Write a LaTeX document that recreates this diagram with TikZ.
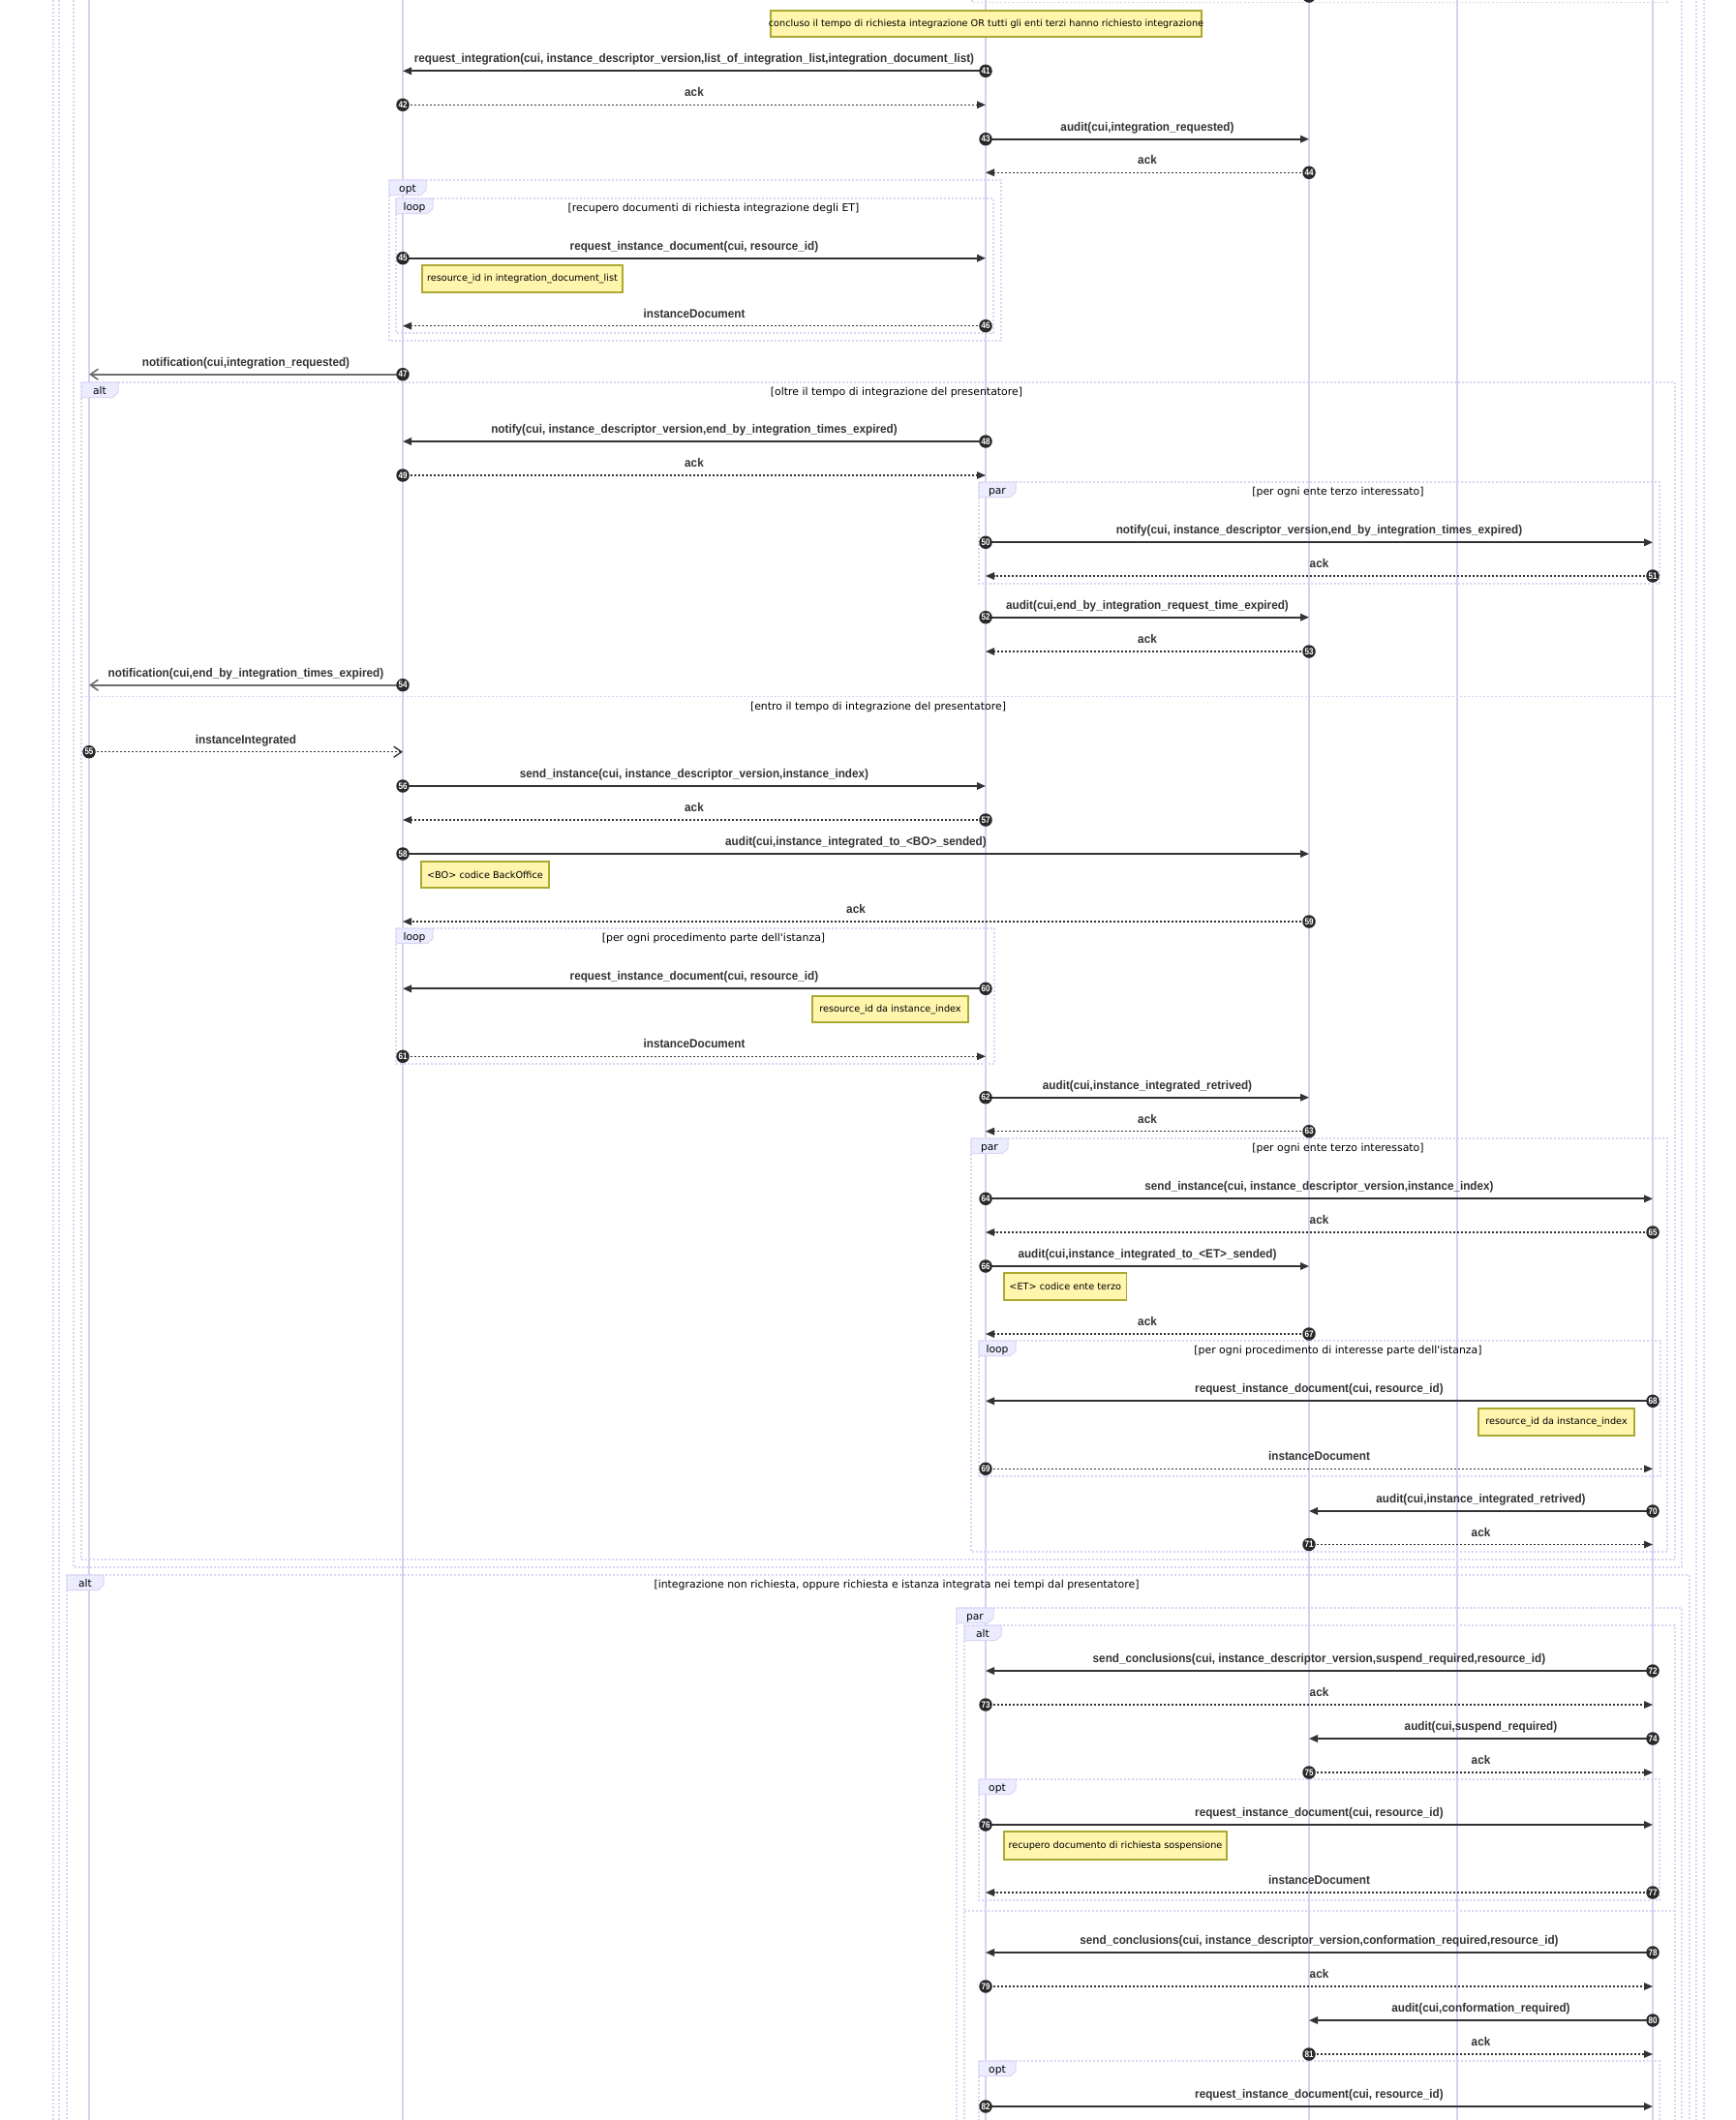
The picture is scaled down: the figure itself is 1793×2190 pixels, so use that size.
\documentclass[tikz,border=0pt]{standalone}
\usepackage{fontspec}
\usetikzlibrary{calc,arrows.meta}
\newfontfamily\msgfont{Liberation Sans}[FakeStretch=0.93]
\newfontfamily\numfont{Liberation Sans}[FakeStretch=0.85]
\newfontfamily\labelfont{DejaVu Sans}

\definecolor{lifeln}{HTML}{DACEF3}
\definecolor{framecol}{HTML}{DCD4F4}
\definecolor{kwfill}{HTML}{ECECFF}
\definecolor{notefill}{HTML}{FFF5AD}
\definecolor{notedraw}{HTML}{AAAA33}
\definecolor{msgcol}{HTML}{333333}
\definecolor{notifcol}{HTML}{6E6E6E}

\tikzset{
  lifeline/.style={draw=lifeln, line width=1.5pt},
  frameline/.style={draw=framecol, line width=1.2pt, dash pattern=on 2pt off 2pt},
  lblbox/.style={fill=kwfill, draw=framecol, line width=1pt},
  framekw/.style={font=\labelfont\fontsize{10.7}{12}\selectfont, anchor=base, inner sep=0pt, text=black},
  condtext/.style={font=\labelfont\fontsize{10.9}{12}\selectfont, anchor=base, inner sep=0pt, text=black},
  msgtext/.style={font=\msgfont\bfseries\fontsize{12.6}{14}\selectfont, anchor=base, inner sep=0pt, text=msgcol},
  seqnum/.style={circle, fill=msgcol!80!black, inner sep=0pt, minimum size=13.5pt, text=white,
    font=\numfont\bfseries\fontsize{9.5}{9.5}\selectfont},
  syncmsg/.style={draw=msgcol, line width=1.8pt, -{Triangle[length=9pt,width=7.5pt]}},
  replymsg/.style={draw=msgcol, line width=1.2pt, dash pattern=on 2pt off 2pt, -{Triangle[length=9pt,width=7.5pt]}},
  notifmsg/.style={draw=notifcol, line width=2.4pt, -{Straight Barb[length=8pt,width=11pt,line width=1.6pt]}},
  asyncreply/.style={draw=msgcol, line width=1.2pt, dash pattern=on 2pt off 2pt, -{Straight Barb[length=8pt,width=11pt,line width=1.4pt]}},
  notebox/.style={fill=notefill, draw=notedraw, line width=1.3pt},
  notetext/.style={font=\labelfont\fontsize{9.7}{11}\selectfont, inner sep=0pt, text=black},
}

% message: number, from lifeline, to lifeline, y, style, label
\newcommand\seqmsg[6]{%
  \coordinate (a#1) at (#2-top |- 0,#4);
  \coordinate (b#1) at (#3-top |- 0,#4);
  \draw[#5] (a#1) -- (b#1);
  \node[seqnum] (n#1) at (a#1) {#1};
  \node[msgtext] (t#1) at ($(a#1)!0.5!(b#1)+(0,-8.5)$) {#6};
}
% combined fragment: name, left, top, right, bottom, keyword
\newcommand\seqblock[6]{%
  \draw[frameline] (#2,#3) rectangle (#4,#5);
  \filldraw[lblbox] (#2,#3) -- ++(38,0) -- ++(0,10.5) -- ++(-5.5,5) -- ++(-32.5,0) -- cycle;
  \node[framekw] (#1) at (#2+19,#3+12.5) {#6};
}
% note: name, x1, y1, x2, y2, text
\newcommand\addnote[6]{%
  \draw[notebox] (#2,#3) rectangle (#4,#5);
  \node[notetext] (#1) at ($(#2,#3)!0.5!(#4,#5)$) {#6};
}

\begin{document}
\begin{tikzpicture}[x=1pt,y=-1pt]
\useasboundingbox (0,0) rectangle (1793,2190);
\fill[white] (0,0) rectangle (1793,2190);
\clip (0,0) rectangle (1793,2190);

% lifelines
\foreach \n/\x in {1/92,2/416,3/1018,4/1352,5/1505,6/1707} {
  \coordinate (L\n-top) at (\x,-10);
  \coordinate (L\n-bot) at (\x,2200);
  \draw[lifeline] (L\n-top) -- (L\n-bot);
}

% enclosing fragments that start above
\draw[frameline] (55,-20) rectangle (1760,2300);
\draw[frameline] (61,-20) rectangle (1752,2300);
\draw[frameline] (76,-20) rectangle (1737,1619);
\draw[frameline] (1004,-20) rectangle (1722,2.7);
\node[seqnum] (n40) at (L4-top |- 0,-4) {};

% fragments
\seqblock{opt1}{402}{186}{1034}{352}{opt}
\seqblock{loop1}{409}{205}{1026}{344}{loop}
\node[condtext] (c1) at (737,218) {[recupero documenti di richiesta integrazione degli ET]};

\seqblock{alt1}{84}{395}{1730}{1611}{alt}
\node[condtext] (c2) at (926,408) {[oltre il tempo di integrazione del presentatore]};
\draw[frameline] (84,719.3) -- (1730,719.3);
\node[condtext] (c3) at (907,733) {[entro il tempo di integrazione del presentatore]};

\seqblock{par1}{1011}{498}{1714}{603}{par}
\node[condtext] (c4) at (1382,511.5) {[per ogni ente terzo interessato]};

\seqblock{loop2}{409}{959}{1027}{1099}{loop}
\node[condtext] (c5) at (737,972.5) {[per ogni procedimento parte dell'istanza]};

\seqblock{par2}{1003}{1176}{1722}{1603}{par}
\node[condtext] (c6) at (1382,1189.5) {[per ogni ente terzo interessato]};

\seqblock{loop3}{1011}{1385}{1715}{1525}{loop}
\node[condtext] (c7) at (1382,1398.5) {[per ogni procedimento di interesse parte dell'istanza]};

\seqblock{alt2}{69}{1627}{1745}{2300}{alt}
\node[condtext] (c8) at (926,1640) {[integrazione non richiesta, oppure richiesta e istanza integrata nei tempi dal presentatore]};

\seqblock{par3}{988}{1661}{1737}{2300}{par}
\seqblock{alt3}{996}{1679}{1730}{2300}{alt}
\draw[frameline] (996,1974) -- (1730,1974);
\seqblock{opt2}{1011}{1838}{1714}{1963}{opt}
\seqblock{opt3}{1011}{2129}{1714}{2300}{opt}

% messages
\seqmsg{41}{L3}{L2}{73.3}{syncmsg}{request\_integration(cui, instance\_descriptor\_version,list\_of\_integration\_list,integration\_document\_list)}
\seqmsg{42}{L2}{L3}{108.3}{replymsg}{ack}
\seqmsg{43}{L3}{L4}{143.7}{syncmsg}{audit(cui,integration\_requested)}
\seqmsg{44}{L4}{L3}{178.3}{replymsg}{ack}
\seqmsg{45}{L2}{L3}{266.7}{syncmsg}{request\_instance\_document(cui, resource\_id)}
\seqmsg{46}{L3}{L2}{336.7}{replymsg}{instanceDocument}
\seqmsg{47}{L2}{L1}{386.7}{notifmsg}{notification(cui,integration\_requested)}
\seqmsg{48}{L3}{L2}{456}{syncmsg}{notify(cui, instance\_descriptor\_version,end\_by\_integration\_times\_expired)}
\seqmsg{49}{L2}{L3}{491}{replymsg}{ack}
\seqmsg{50}{L3}{L6}{560.3}{syncmsg}{notify(cui, instance\_descriptor\_version,end\_by\_integration\_times\_expired)}
\seqmsg{51}{L6}{L3}{595}{replymsg}{ack}
\seqmsg{52}{L3}{L4}{637.7}{syncmsg}{audit(cui,end\_by\_integration\_request\_time\_expired)}
\seqmsg{53}{L4}{L3}{673}{replymsg}{ack}
\seqmsg{54}{L2}{L1}{707.7}{notifmsg}{notification(cui,end\_by\_integration\_times\_expired)}
\seqmsg{55}{L1}{L2}{776.7}{asyncreply}{instanceIntegrated}
\seqmsg{56}{L2}{L3}{812}{syncmsg}{send\_instance(cui, instance\_descriptor\_version,instance\_index)}
\seqmsg{57}{L3}{L2}{847}{replymsg}{ack}
\seqmsg{58}{L2}{L4}{882}{syncmsg}{audit(cui,instance\_integrated\_to\_<BO>\_sended)}
\seqmsg{59}{L4}{L2}{952}{replymsg}{ack}
\seqmsg{60}{L3}{L2}{1021.3}{syncmsg}{request\_instance\_document(cui, resource\_id)}
\seqmsg{61}{L2}{L3}{1091.3}{replymsg}{instanceDocument}
\seqmsg{62}{L3}{L4}{1133.7}{syncmsg}{audit(cui,instance\_integrated\_retrived)}
\seqmsg{63}{L4}{L3}{1168.7}{replymsg}{ack}
\seqmsg{64}{L3}{L6}{1238.3}{syncmsg}{send\_instance(cui, instance\_descriptor\_version,instance\_index)}
\seqmsg{65}{L6}{L3}{1273}{replymsg}{ack}
\seqmsg{66}{L3}{L4}{1308}{syncmsg}{audit(cui,instance\_integrated\_to\_<ET>\_sended)}
\seqmsg{67}{L4}{L3}{1378}{replymsg}{ack}
\seqmsg{68}{L6}{L3}{1447.3}{syncmsg}{request\_instance\_document(cui, resource\_id)}
\seqmsg{69}{L3}{L6}{1517.3}{replymsg}{instanceDocument}
\seqmsg{70}{L6}{L4}{1561}{syncmsg}{audit(cui,instance\_integrated\_retrived)}
\seqmsg{71}{L4}{L6}{1595.5}{replymsg}{ack}
\seqmsg{72}{L6}{L3}{1726}{syncmsg}{send\_conclusions(cui, instance\_descriptor\_version,suspend\_required,resource\_id)}
\seqmsg{73}{L3}{L6}{1761}{replymsg}{ack}
\seqmsg{74}{L6}{L4}{1796}{syncmsg}{audit(cui,suspend\_required)}
\seqmsg{75}{L4}{L6}{1831}{replymsg}{ack}
\seqmsg{76}{L3}{L6}{1885}{syncmsg}{request\_instance\_document(cui, resource\_id)}
\seqmsg{77}{L6}{L3}{1955}{replymsg}{instanceDocument}
\seqmsg{78}{L6}{L3}{2017}{syncmsg}{send\_conclusions(cui, instance\_descriptor\_version,conformation\_required,resource\_id)}
\seqmsg{79}{L3}{L6}{2052}{replymsg}{ack}
\seqmsg{80}{L6}{L4}{2087}{syncmsg}{audit(cui,conformation\_required)}
\seqmsg{81}{L4}{L6}{2122}{replymsg}{ack}
\seqmsg{82}{L3}{L6}{2176}{syncmsg}{request\_instance\_document(cui, resource\_id)}

% notes
\addnote{nt1}{796}{11}{1241}{38}{concluso il tempo di richiesta integrazione OR tutti gli enti terzi hanno richiesto integrazione}
\addnote{nt2}{436}{274}{643}{302}{resource\_id in integration\_document\_list}
\addnote{nt3}{435}{890}{567}{917}{<BO> codice BackOffice}
\addnote{nt4}{839}{1029}{1000}{1056}{resource\_id da instance\_index}
\addnote{nt5}{1037}{1315}{1163.5}{1343}{<ET> codice ente terzo}
\addnote{nt6}{1527}{1455}{1688}{1483}{resource\_id da instance\_index}
\addnote{nt7}{1037}{1892}{1267}{1921}{recupero documento di richiesta sospensione}
\end{tikzpicture}
\end{document}
